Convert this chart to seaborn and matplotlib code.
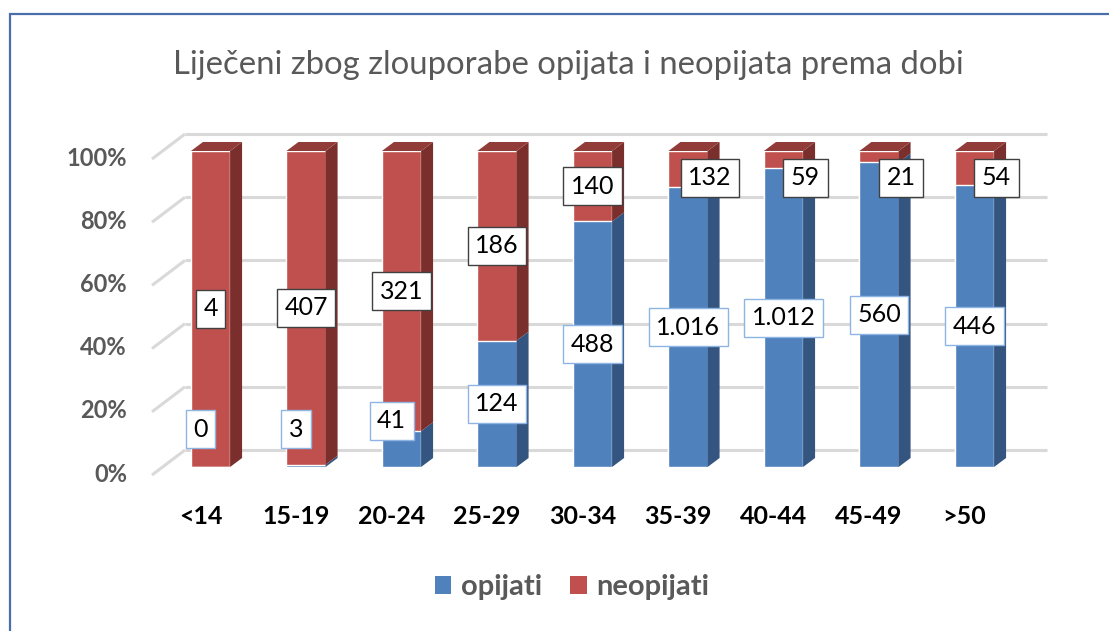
import numpy as np
import pandas as pd
import matplotlib
matplotlib.use("Agg")
import matplotlib.pyplot as plt
import matplotlib.transforms as mtransforms
from matplotlib.patches import Polygon, Rectangle, Patch
import seaborn as sns

# ------------------------------------------------------------
# DATA
# ------------------------------------------------------------
age_groups = ['<14', '15-19', '20-24', '25-29', '30-34', '35-39', '40-44', '45-49', '>50']
opijati = [0, 3, 41, 124, 488, 1016, 1012, 560, 446]
neopijati = [4, 407, 321, 186, 140, 132, 59, 21, 54]
series_names = ['opijati', 'neopijati']
title = 'Liječeni zbog zlouporabe opijata i neopijata prema dobi'

df = pd.DataFrame({'dob': age_groups, 'opijati': opijati, 'neopijati': neopijati})
df['ukupno'] = df['opijati'] + df['neopijati']
df['udio_opijati'] = df['opijati'] / df['ukupno']
df['udio_ukupno'] = 1.0

# ------------------------------------------------------------
# STYLE
# ------------------------------------------------------------
BLUE = '#4F81BD'
RED = '#C0504D'
BLUE_SIDE = '#34557F'
RED_SIDE = '#7B2F2D'
RED_TOP = '#923C39'
GRID = '#D9D9D9'
GRAY = '#595959'

sns.set_style('white')
plt.rcParams['font.family'] = ['Lato', 'DejaVu Sans']

W, H = 1109, 631
fig = plt.figure(figsize=(W / 100, H / 100), dpi=100)
ax = fig.add_axes([152 / W, (H - 467) / H, 895 / W, 316 / H])

# front faces of the stacked 100% bars
bar_w = 0.41
sns.barplot(data=df, x='dob', y='udio_ukupno', color=RED, saturation=1,
            width=bar_w, errorbar=None, ax=ax, zorder=3)
sns.barplot(data=df, x='dob', y='udio_opijati', color=BLUE, saturation=1,
            width=bar_w, errorbar=None, ax=ax, zorder=3)

ax.set_xlim((152 - 210.5) / 95.5, (1047 - 210.5) / 95.5)
ax.set_ylim(0, 1)
for s in ax.spines.values():
    s.set_visible(False)
ax.set_xlabel('')
ax.set_ylabel('')
ax.set_xticks([])
ax.set_yticks([])


def px(dx, dy):
    # offset in screen pixels (dpi = 100)
    return mtransforms.ScaledTranslation(dx / 100, dy / 100, fig.dpi_scale_trans)


# gridlines: back wall + left wall diagonals
yt = [0, 0.2, 0.4, 0.6, 0.8, 1.0]
ytr = ax.get_yaxis_transform()
xtr = ax.get_xaxis_transform()
wall = 33 / 895
inv = ax.transData.inverted()
for v in yt:
    ax.plot([wall, 1.0], [v, v], color=GRID, lw=2.2, transform=ytr + px(0, 17),
            clip_on=False, zorder=1, solid_capstyle='butt')
    x0 = ax.transAxes.transform((0, 0))[0]
    y0 = ax.transData.transform((0, v))[1]
    (a, b), (c, d) = inv.transform([(x0, y0 - 8), (x0 + 33, y0 + 17)])
    ax.plot([a, c], [b, d], color=GRID, lw=2.2, clip_on=False, zorder=1,
            solid_capstyle='butt')
    # y tick label, aligned with the front edge of the side wall
    ax.text(0, v, f'{int(v * 100)}%', transform=ytr + px(-25, -7), ha='right', va='center',
            fontsize=17, fontweight='bold', color=GRAY)

# x tick labels
for i, name in enumerate(age_groups):
    ax.text(i, 0, name, transform=xtr + px(-10, -50), ha='center', va='center',
            fontsize=18, fontweight='bold', color='black')

# 3D faces (side and top) for each bar
DX, DY = 12, 9


def face(points_data, shift_idx, color):
    disp = ax.transData.transform(points_data)
    for k in shift_idx:
        disp[k] = disp[k] + np.array([DX, DY])
    ax.add_patch(Polygon(inv.transform(disp), closed=True, facecolor=color,
                         edgecolor='none', zorder=3, clip_on=False))


for i, share in enumerate(df['udio_opijati']):
    xl, xr = i - bar_w / 2, i + bar_w / 2
    if share > 0:
        face([(xr, 0), (xr, share), (xr, share), (xr, 0)], [2, 3], BLUE_SIDE)
    face([(xr, share), (xr, 1), (xr, 1), (xr, share)], [2, 3], RED_SIDE)
    face([(xl, 1), (xr, 1), (xr, 1), (xl, 1)], [2, 3], RED_TOP)


# value labels
def fmt(v):
    return f'{v:,}'.replace(',', '.')


for i in range(len(age_groups)):
    share = df['udio_opijati'][i]
    blue_c = share / 2
    red_c = share + (1 - share) / 2
    bx = 0
    if blue_c < 0.12:
        blue_c, bx = max(blue_c + 0.09, 0.12), -10
    rx = 0
    if red_c > 0.915:
        red_c, rx = 0.915, 22
    ax.annotate(fmt(opijati[i]), (i, blue_c), xytext=(bx * 0.72, 0), textcoords='offset points',
                ha='center', va='center', fontsize=18, color='black', zorder=6,
                bbox=dict(boxstyle='square,pad=0.3', fc='white', ec='#8EB4E3', lw=1))
    ax.annotate(fmt(neopijati[i]), (i, red_c), xytext=(rx * 0.72, 0), textcoords='offset points',
                ha='center', va='center', fontsize=18, color='black', zorder=6,
                bbox=dict(boxstyle='square,pad=0.3', fc='white', ec='#404040', lw=1))

# title
fig.text(568 / W, 1 - 65 / H, title, ha='center', va='center', fontsize=23.7, color=GRAY)

# legend
handles = [Patch(facecolor=BLUE, edgecolor='none'), Patch(facecolor=RED, edgecolor='none')]
fig.legend(handles, series_names, loc='center', bbox_to_anchor=(572 / W, 1 - 587 / H),
           ncol=2, frameon=False, handlelength=0.56, handleheight=0.56, handletextpad=0.34,
           columnspacing=0.97, prop={'size': 21, 'weight': 'bold'}, labelcolor=GRAY)

# chart frame (only left and top edges fall inside the picture)
fig.patches.append(Rectangle((9.5 / W, -0.1), 1.2, 0.1 + (H - 14) / H,
                             transform=fig.transFigure, fill=False, ec='#4A6EA9', lw=1.6))

fig.savefig('out.png', dpi=100)
